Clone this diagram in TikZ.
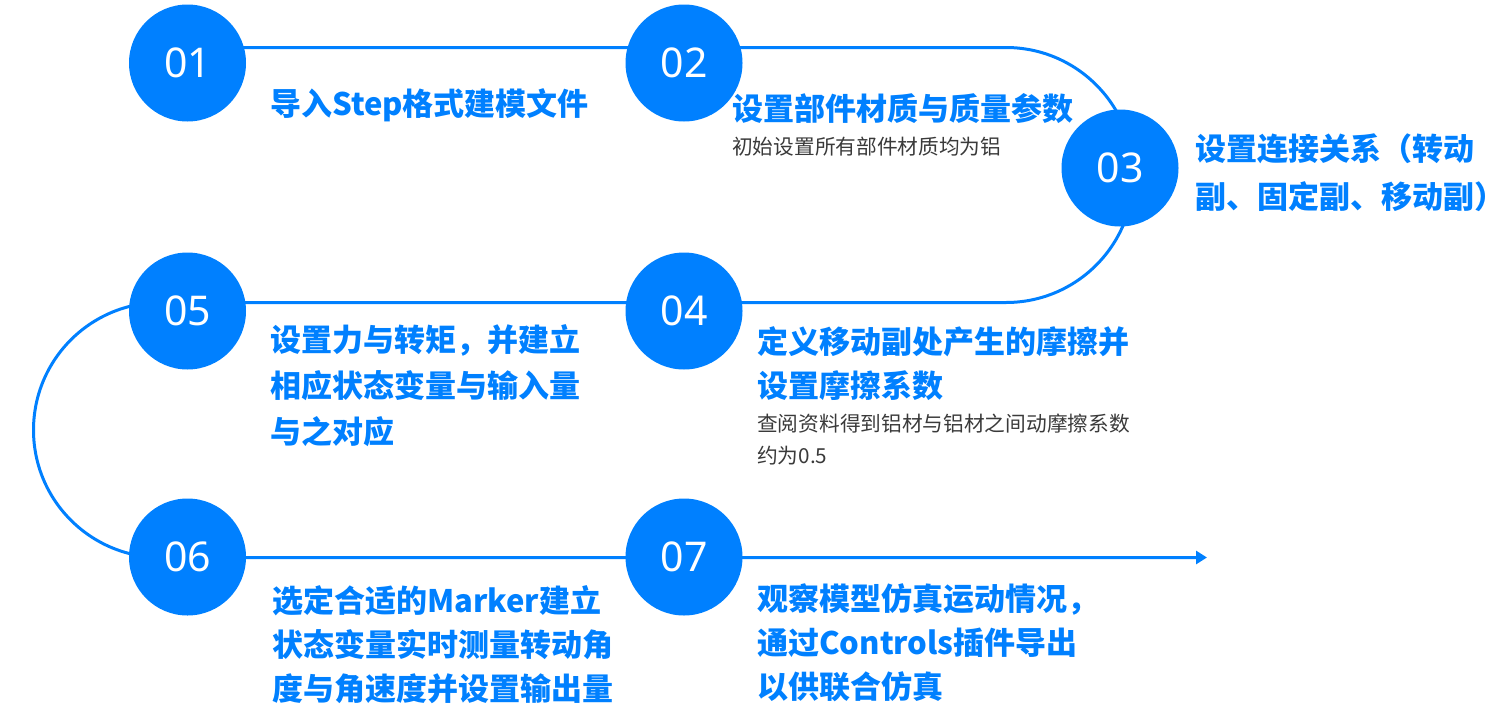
\documentclass[tikz,border=0pt]{standalone}
\usepackage{fontspec}
\setmainfont{Noto Sans CJK SC}
\newfontfamily\numfont{Noto Sans}
\usetikzlibrary{arrows.meta}
\definecolor{mainblue}{HTML}{0080FF}
\definecolor{subgray}{HTML}{3A3A3A}
\tikzset{
  stepcircle/.style={circle, fill=mainblue, draw=none, minimum size=117pt, inner sep=0pt,
    text=white, font=\numfont\fontsize{41}{41}\selectfont},
  headtext/.style={anchor=base west, inner sep=0pt, text=mainblue,
    font=\bfseries\fontsize{31}{31}\selectfont},
  subtext/.style={anchor=base west, inner sep=0pt, text=subgray,
    font=\fontsize{20.7}{20.7}\selectfont},
  flowline/.style={draw=mainblue, line width=3pt}
}
\begin{document}
\begin{tikzpicture}[x=1pt,y=1pt]
\useasboundingbox (0,0) rectangle (1508,-718);
% path coordinates
\coordinate (p1) at (187,-47.5);
\coordinate (p2) at (1006,-47.5);
\coordinate (p3) at (161,-302.5);
\coordinate (pend) at (1207,-557.5);
% connector
\draw[flowline, -{Triangle[length=11pt,width=13pt]}]
  (p1) -- (p2) arc (90:-90:127.5) -- (p3) arc (90:270:127.5) -- (pend);
% circles
\node[stepcircle] (c01) at (187.5,-63) {01};
\node[stepcircle] (c02) at (684,-63) {02};
\node[stepcircle] (c03) at (1120,-168) {03};
\node[stepcircle] (c04) at (684,-311) {04};
\node[stepcircle] (c05) at (187.5,-311) {05};
\node[stepcircle] (c06) at (187.5,-557) {06};
\node[stepcircle] (c07) at (684,-557) {07};
% texts
\node[headtext] (t1) at (270,-115) {导入Step格式建模文件};
\node[headtext] (t2) at (732,-120) {设置部件材质与质量参数};
\node[subtext] (s2) at (732,-154) {初始设置所有部件材质均为铝};
\node[headtext] (t3a) at (1195,-160) {设置连接关系（转动};
\node[headtext] (t3b) at (1195,-208) {副、固定副、移动副）};
\node[headtext] (t4a) at (757,-353) {定义移动副处产生的摩擦并};
\node[headtext] (t4b) at (757,-397) {设置摩擦系数};
\node[subtext] (s4a) at (757,-431) {查阅资料得到铝材与铝材之间动摩擦系数};
\node[subtext] (s4b) at (757,-463) {约为0.5};
\node[headtext] (t5a) at (270,-351) {设置力与转矩，并建立};
\node[headtext] (t5b) at (270,-397) {相应状态变量与输入量};
\node[headtext] (t5c) at (270,-443) {与之对应};
\node[headtext] (t6a) at (272,-612) {选定合适的Marker建立};
\node[headtext] (t6b) at (272,-656) {状态变量实时测量转动角};
\node[headtext] (t6c) at (272,-700) {度与角速度并设置输出量};
\node[headtext] (t7a) at (757,-610) {观察模型仿真运动情况，};
\node[headtext] (t7b) at (757,-654) {通过Controls插件导出};
\node[headtext] (t7c) at (757,-698) {以供联合仿真};
\end{tikzpicture}
\end{document}
